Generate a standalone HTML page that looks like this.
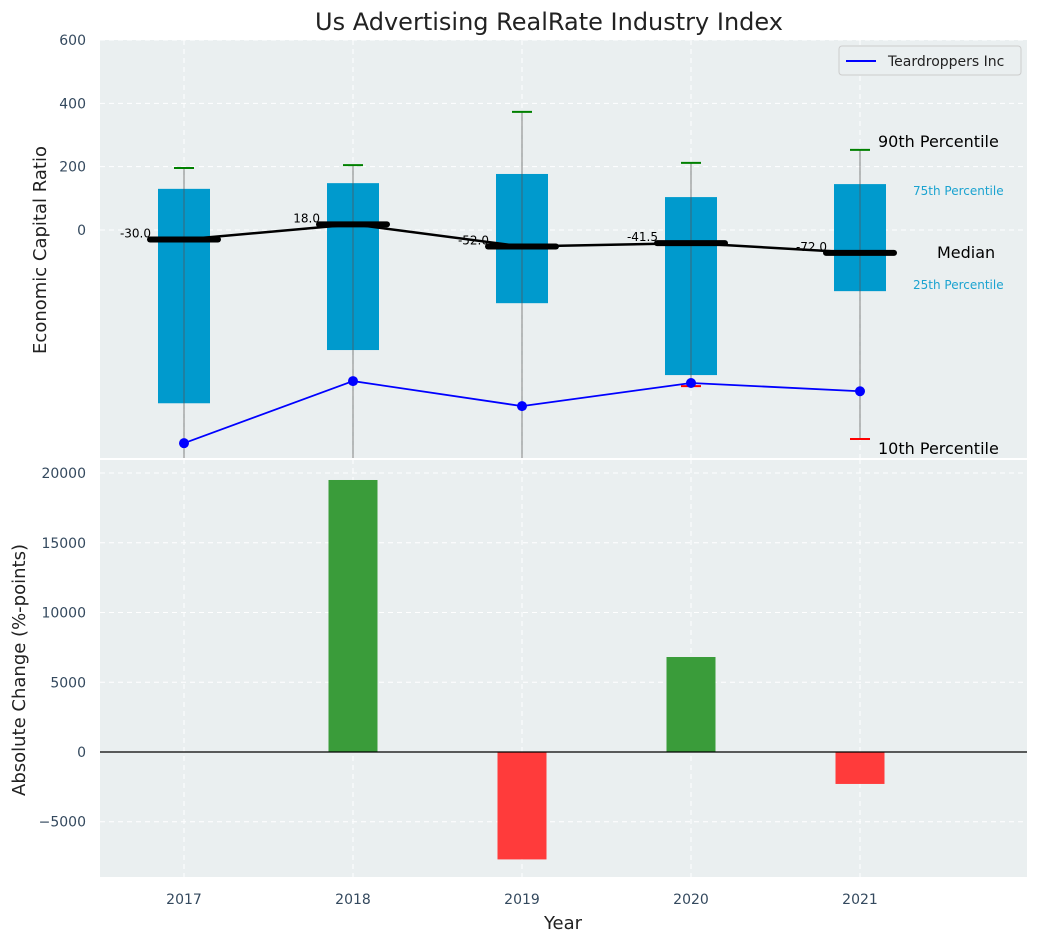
<!DOCTYPE html>
<html><head><meta charset="utf-8"><style>
body{margin:0;background:#fff;}
svg{display:block;font-family:"DejaVu Sans","Liberation Sans",sans-serif;}
</style></head><body>
<svg id="c" width="1039" height="942" xmlns="http://www.w3.org/2000/svg"></svg>
<script>
const years=[2017,2018,2019,2020,2021];
const q75=[130,148,177,104,145];
const q25=[-547,-379,-231,-458,-193];
const p90=[196,205,373,212,253];
const p10=[-900,-900,-900,-493,-660];
const medians=[-30,18,-52,-41.5,-72];
const company=[-673,-477,-556,-483,-509];
const changes=[0,19500,-7700,6810,-2290];
const topTicks=[0,200,400,600];
const botTicks=[-5000,0,5000,10000,15000,20000];

const NS="http://www.w3.org/2000/svg";
const svg=document.getElementById('c');
function el(t,a,p){const e=document.createElementNS(NS,t);for(const k in a)e.setAttribute(k,a[k]);(p||svg).appendChild(e);return e;}
const X0=100,X1=1027;
const x=v=>184+(v-2017)*169;
const T0=40,T1=459;const yt=v=>T0+(600-v)/(600+723)*(T1-T0);
const B0=459,B1=877;const yb=v=>B0+(21005-v)/(21005+8961)*(B1-B0);

let t=el('text',{x:549,y:30,'text-anchor':'middle','font-size':24,fill:'#222'});t.textContent='Us Advertising RealRate Industry Index';


const gt=el('g',{});
el('defs',{}).innerHTML='<clipPath id="ct"><rect x="100" y="40" width="927" height="419"/></clipPath><clipPath id="cb"><rect x="100" y="459" width="927" height="418"/></clipPath>';
el('rect',{x:X0,y:T0,width:X1-X0,height:T1-T0,fill:'#eaeff0'},gt);
const gtc=el('g',{'clip-path':'url(#ct)'},gt);
topTicks.forEach(v=>{
  el('line',{x1:X0,x2:X1,y1:yt(v),y2:yt(v),stroke:'#fff','stroke-dasharray':'5,4','stroke-width':1},gtc);
  const l=el('text',{x:86,y:yt(v)+5,'text-anchor':'end','font-size':14,fill:'#34495e'});l.textContent=v;
  
});
years.forEach(yr=>el('line',{x1:x(yr),x2:x(yr),y1:T0,y2:T1,stroke:'#fff','stroke-dasharray':'5,4'},gtc));
years.forEach((yr,i)=>{
  const b=el('rect',{x:x(yr)-26,y:yt(q75[i]),width:52,height:yt(q25[i])-yt(q75[i]),fill:'#009acd'},gtc);
  
  el('line',{x1:x(yr),x2:x(yr),y1:yt(p90[i]),y2:yt(p10[i]),stroke:'#555','stroke-opacity':0.6,'stroke-width':1.2},gtc);
  el('line',{x1:x(yr)-10,x2:x(yr)+10,y1:yt(p90[i]),y2:yt(p90[i]),stroke:'green','stroke-width':2},gtc);
  el('line',{x1:x(yr)-10,x2:x(yr)+10,y1:yt(p10[i]),y2:yt(p10[i]),stroke:'red','stroke-width':2},gtc);
});
el('polyline',{points:years.map((yr,i)=>x(yr)+','+yt(medians[i])).join(' '),fill:'none',stroke:'#000','stroke-width':2.5},gtc);
years.forEach((yr,i)=>{
  const m=el('line',{x1:x(yr)-34,x2:x(yr)+34,y1:yt(medians[i]),y2:yt(medians[i]),stroke:'#000','stroke-width':6,'stroke-linecap':'round'},gtc);
  
  const l=el('text',{x:x(yr)-33,y:yt(medians[i])-2,'text-anchor':'end','font-size':12,fill:'#000'},gtc);l.textContent=medians[i].toFixed(1);
  
});
el('polyline',{points:years.map((yr,i)=>x(yr)+','+yt(company[i])).join(' '),fill:'none',stroke:'#0000ff','stroke-width':1.8},gtc);
years.forEach((yr,i)=>{const c=el('circle',{cx:x(yr),cy:yt(company[i]),r:5,fill:'#0000ff'},gtc);});
[['90th Percentile',878,147,16,'#000'],['75th Percentile',913,195,12,'#1ba3d0'],['Median',937,258,16,'#000'],['25th Percentile',913,289,12,'#1ba3d0'],['10th Percentile',878,454,16,'#000']].forEach(a=>{
  const l=el('text',{x:a[1],y:a[2],'font-size':a[3],fill:a[4]},gt);l.textContent=a[0];
  
});
const lg=el('g',{});
el('rect',{x:839,y:46,width:182,height:29,rx:3,fill:'#eaeff0',stroke:'#ccc'},lg);
el('line',{x1:846,x2:876,y1:61,y2:61,stroke:'#0000ff','stroke-width':2},lg);
let lt=el('text',{x:888,y:66,'font-size':14,fill:'#222'},lg);lt.textContent='Teardroppers Inc';
let yl=el('text',{transform:'translate(46,250) rotate(-90)','text-anchor':'middle','font-size':18,fill:'#222'});yl.textContent='Economic Capital Ratio';


const gb=el('g',{});
el('rect',{x:X0,y:B0,width:X1-X0,height:B1-B0,fill:'#eaeff0'},gb);
const gbc=el('g',{'clip-path':'url(#cb)'},gb);
botTicks.forEach(v=>{
  el('line',{x1:X0,x2:X1,y1:yb(v),y2:yb(v),stroke:'#fff','stroke-dasharray':'5,4'},gbc);
  const l=el('text',{x:86,y:yb(v)+5,'text-anchor':'end','font-size':14,fill:'#34495e'});l.textContent=(v<0?'\u2212'+(-v):v);
  
});
years.forEach(yr=>{
  el('line',{x1:x(yr),x2:x(yr),y1:B0,y2:B1,stroke:'#fff','stroke-dasharray':'5,4'},gbc);
  const l=el('text',{x:x(yr),y:904,'text-anchor':'middle','font-size':14,fill:'#34495e'});l.textContent=yr;
  
});
years.forEach((yr,i)=>{
  const v=changes[i];const y0=yb(Math.max(v,0)),y1=yb(Math.min(v,0));
  const b=el('rect',{x:x(yr)-24.5,y:y0,width:49,height:y1-y0,fill:v>=0?'#3a9c3a':'#ff3b3b'},gbc);
  
});
el('line',{x1:X0,x2:X1,y1:yb(0),y2:yb(0),stroke:'#000','stroke-width':1.2},gbc);
el('line',{x1:X0,x2:X1,y1:459,y2:459,stroke:'#fff','stroke-width':2});
let y2=el('text',{transform:'translate(25,670) rotate(-90)','text-anchor':'middle','font-size':18,fill:'#222'});y2.textContent='Absolute Change (%-points)';

let xt=el('text',{x:563,y:929,'text-anchor':'middle','font-size':18,fill:'#222'});xt.textContent='Year';

</script>
</body></html>
